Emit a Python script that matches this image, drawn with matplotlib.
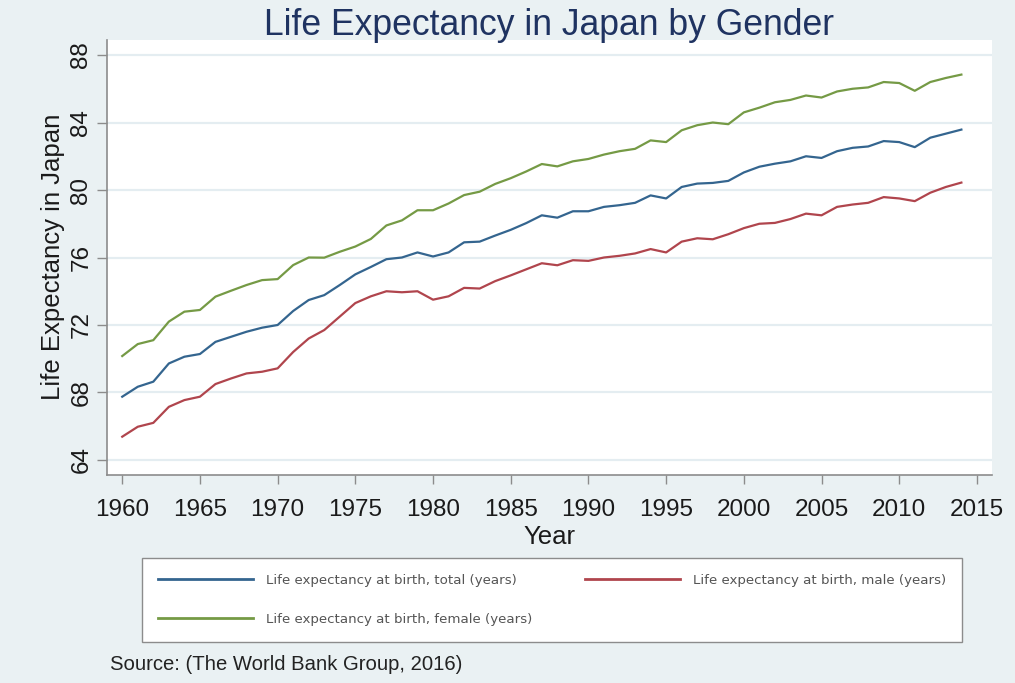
import matplotlib
matplotlib.use("Agg")
import matplotlib.pyplot as plt
import numpy as np

years = np.arange(1960, 2015)

total = [67.75, 68.34, 68.64, 69.72, 70.12, 70.28, 71.00, 71.30, 71.60, 71.84,
         72.00, 72.83, 73.48, 73.77, 74.37, 75.00, 75.44, 75.90, 76.00, 76.30,
         76.06, 76.30, 76.90, 76.94, 77.30, 77.64, 78.04, 78.50, 78.36, 78.74,
         78.74, 79.00, 79.10, 79.24, 79.68, 79.50, 80.18, 80.38, 80.42, 80.54,
         81.04, 81.38, 81.56, 81.70, 82.00, 81.90, 82.30, 82.50, 82.58, 82.90,
         82.84, 82.54, 83.10, 83.34, 83.58]

male = [65.38, 65.97, 66.20, 67.15, 67.55, 67.75, 68.50, 68.83, 69.13, 69.23,
        69.43, 70.40, 71.20, 71.70, 72.50, 73.30, 73.70, 74.00, 73.94, 74.00,
        73.50, 73.70, 74.20, 74.16, 74.60, 74.94, 75.30, 75.66, 75.54, 75.84,
        75.80, 76.00, 76.10, 76.24, 76.50, 76.30, 76.94, 77.14, 77.08, 77.38,
        77.74, 78.00, 78.05, 78.28, 78.60, 78.50, 79.00, 79.14, 79.24, 79.58,
        79.50, 79.34, 79.84, 80.18, 80.44]

female = [70.16, 70.87, 71.10, 72.20, 72.79, 72.89, 73.68, 74.03, 74.37, 74.66,
          74.72, 75.55, 76.00, 75.99, 76.34, 76.65, 77.10, 77.90, 78.20, 78.80,
          78.80, 79.20, 79.70, 79.90, 80.36, 80.70, 81.10, 81.54, 81.40, 81.70,
          81.84, 82.10, 82.30, 82.44, 82.94, 82.84, 83.54, 83.84, 84.00, 83.90,
          84.60, 84.88, 85.20, 85.34, 85.60, 85.48, 85.84, 86.00, 86.08, 86.40,
          86.34, 85.88, 86.40, 86.64, 86.84]

labels = ["Life expectancy at birth, total (years)",
          "Life expectancy at birth, male (years)",
          "Life expectancy at birth, female (years)"]
colors = ["#34658f", "#b0454d", "#759a45"]

xticks = np.arange(1960, 2016, 5)
yticks = np.arange(64, 89, 4)

plt.rcParams['font.family'] = ['Liberation Sans', 'DejaVu Sans']

W, H = 1015, 683
fig = plt.figure(figsize=(W / 100, H / 100), dpi=100, facecolor="#eaf1f3")
ax = fig.add_axes([107 / W, 1 - 475 / H, 885 / W, 435 / H])
ax.set_facecolor("white")

lines = []
for series, lab, c in zip([total, male, female], labels, colors):
    ln, = ax.plot(years, series, color=c, lw=1.6, label=lab)
    lines.append(ln)

ax.set_xlim(1959.02, 2015.97)
ax.set_ylim(63.11, 88.89)
ax.set_xticks(xticks)
ax.set_yticks(yticks)
ax.yaxis.grid(True, color="#e4edf1", lw=1.6)
ax.set_axisbelow(True)

for s in ["top", "right"]:
    ax.spines[s].set_visible(False)
for s in ["left", "bottom"]:
    ax.spines[s].set_color("#8c8c8c")
    ax.spines[s].set_linewidth(1.2)

ax.tick_params(axis="x", length=6.5, width=1, color="#8c8c8c", pad=11,
               labelsize=17.5, labelcolor="#1a1a1a")
ax.tick_params(axis="y", length=7, width=1, color="#8c8c8c", pad=3.5,
               labelsize=17.5, labelcolor="#1a1a1a", labelrotation=90)
for t in ax.get_yticklabels():
    t.set_va("center")

fig.text(549.5 / W, 1 - 35 / H, "Life Expectancy in Japan by Gender",
         ha="center", va="baseline", fontsize=25.6, color="#1f3361")
fig.text(53 / W, 1 - 257 / H, "Life Expectancy in Japan", rotation=90,
         ha="center", va="center", fontsize=18.5, color="#1a1a1a")
fig.text(549.5 / W, 1 - 537 / H, "Year", ha="center", va="center",
         fontsize=18.5, color="#1a1a1a")

# column-major fill: total & female in first column, male in second
order = [0, 2, 1]
leg = fig.legend([lines[i] for i in order], [labels[i] for i in order],
                 loc="upper left", bbox_to_anchor=(142 / W, 1 - 643 / H, 820 / W, 85 / H),
                 mode="expand", ncol=2, prop={"family": "DejaVu Sans", "size": 9.6},
                 handlelength=7.1, handletextpad=1.0, borderaxespad=0,
                 labelspacing=1.95, borderpad=1.2, frameon=True, fancybox=False,
                 edgecolor="#8c8c8c", facecolor="white", framealpha=1)
leg.get_frame().set_linewidth(1.0)
for t in leg.get_texts():
    t.set_color("#555555")
for h in leg.get_lines():
    h.set_linewidth(2.0)

fig.text(110 / W, 1 - 665 / H, "Source: (The World Bank Group, 2016)",
         ha="left", va="center", fontsize=14.6, color="#222222")

fig.savefig("out.png", dpi=100, facecolor=fig.get_facecolor())
